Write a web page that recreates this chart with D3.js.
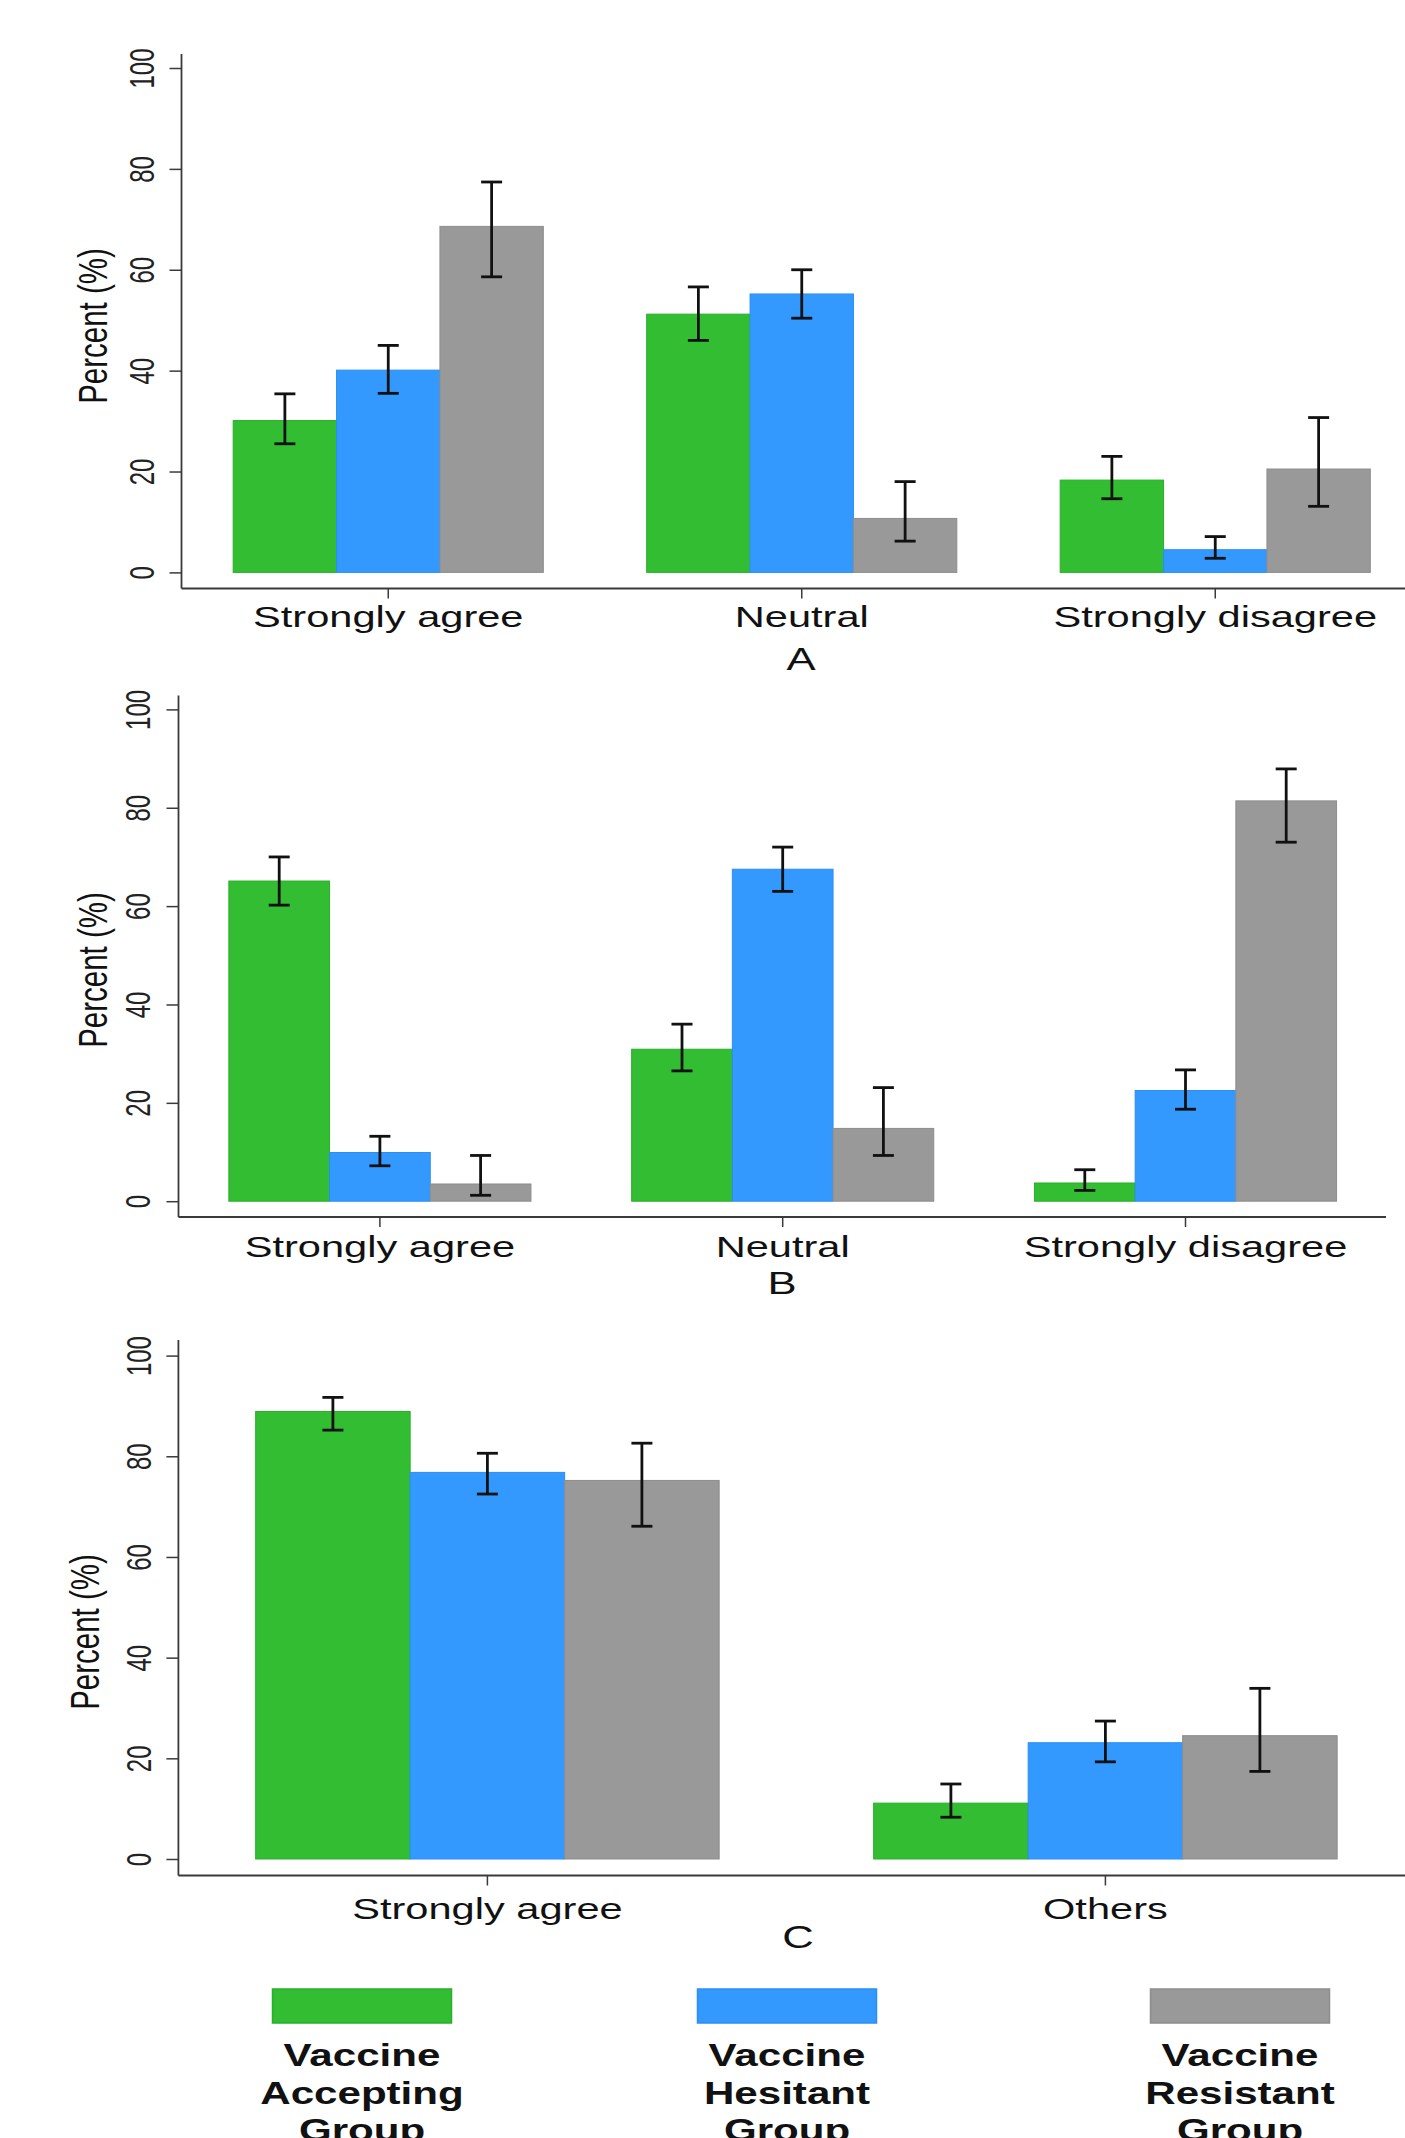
<!DOCTYPE html>
<html>
<head>
<meta charset="utf-8">
<script src="https://cdn.jsdelivr.net/npm/d3@7"></script>
<style>
  html, body { margin: 0; padding: 0; background: #fff; }
  svg { display: block; }
</style>
</head>
<body>
<svg id="chart"></svg>
<script>
// ─── Data ──────────────────────────────────────────────────────────────────
const groups = ["Vaccine Accepting Group", "Vaccine Hesitant Group", "Vaccine Resistant Group"];
const groupLines = [["Vaccine", "Accepting", "Group"], ["Vaccine", "Hesitant", "Group"], ["Vaccine", "Resistant", "Group"]];

const catsAB = ["Strongly agree", "Neutral", "Strongly disagree"];
const catsC  = ["Strongly agree", "Others"];

// one row per category, columns = [accepting, hesitant, resistant]
const meanA = [[30.1, 40.1, 68.6], [51.2, 55.2, 10.7], [18.3, 4.5, 20.5]];
const lowA  = [[25.5, 35.5, 58.6], [46.0, 50.4, 6.2],  [14.6, 2.8, 13.1]];
const highA = [[35.4, 45.0, 77.4], [56.6, 60.0, 18.0], [23.0, 7.1, 30.7]];

const meanB = [[65.1, 9.9, 3.5],   [30.9, 67.5, 14.8], [3.7, 22.5, 81.4]];
const lowB  = [[60.2, 7.2, 1.2],   [26.5, 63.0, 9.3],  [2.2, 18.7, 73.0]];
const highB = [[70.0, 13.2, 9.3],  [36.0, 72.0, 23.1], [6.4, 26.7, 87.9]];

const meanC = [[88.9, 76.8, 75.2], [11.1, 23.1, 24.5]];
const lowC  = [[85.2, 72.5, 66.1], [8.3, 19.3, 17.4]];
const highC = [[91.7, 80.6, 82.6], [14.9, 27.4, 33.9]];

const yTicks = [0, 20, 40, 60, 80, 100];

// ─── Style ─────────────────────────────────────────────────────────────────
const W = 1405, H = 2138;
const SX = 1.41;               // the source raster is stretched horizontally
const FONT = "'Liberation Sans', Arial, Helvetica, sans-serif";
const FILL   = ["#33bd33", "#3399ff", "#999999"];
const STROKE = ["#28b028", "#2b8ef2", "#8d8d8d"];
const AXIS = "#3a3a3a";
const TEXT = "#111";

// ─── Layout per panel ──────────────────────────────────────────────────────
const PANELS = [
  { letter: "A", cats: catsAB, mean: meanA, low: lowA, high: highA,
    axisX: 181.5, y0: 572.4, y100: 68, axisTop: 54, xAxisY: 588.5, step: 413.5, axisEnd: 1405,
    tickLblX: 154, titleX: 107, titleY: 326, catY: 627, letterX: 801, letterY: 670 },
  { letter: "B", cats: catsAB, mean: meanB, low: lowB, high: highB,
    axisX: 178.5, y0: 1201.2, y100: 709.4, axisTop: 695.5, xAxisY: 1217, step: 402.8, axisEnd: 1386,
    tickLblX: 150, titleX: 107, titleY: 970, catY: 1257, letterX: 782, letterY: 1294 },
  { letter: "C", cats: catsC, mean: meanC, low: lowC, high: highC,
    axisX: 178.4, y0: 1859, y100: 1355.6, axisTop: 1340, xAxisY: 1875.5, step: 618, axisEnd: 1405,
    tickLblX: 151, titleX: 99, titleY: 1632, catY: 1919, letterX: 798, letterY: 1948 },
];

const LEGEND_X = [362, 787, 1240];
const LEGEND = { y: 1989, w: 179, h: 34, textY: 2066, lineH: 37.5 };

// ─── SVG ───────────────────────────────────────────────────────────────────
const svg = d3.select("#chart").attr("width", W).attr("height", H)
  .attr("viewBox", `0 0 ${W} ${H}`)
  .style("font-family", FONT);

svg.append("rect").attr("width", W).attr("height", H).attr("fill", "#fff");

// text stretched horizontally like the source picture
function stretchedText(parent, x, y, str, size, rotate = false, sx = SX) {
  return parent.append("text")
    .attr("transform", `translate(${x},${y}) scale(${sx},1)` + (rotate ? " rotate(-90)" : ""))
    .attr("text-anchor", "middle")
    .attr("font-size", size)
    .attr("fill", TEXT)
    .text(str);
}

PANELS.forEach(p => {
  const g = svg.append("g");
  const n = p.cats.length;

  const y = d3.scaleLinear().domain([0, 100]).range([p.y0, p.y100]);
  const x0 = d3.scaleBand().domain(p.cats)
    .range([p.axisX, p.axisX + n * p.step])
    .paddingInner(0.25).paddingOuter(0.125);
  const x1 = d3.scaleBand().domain(groups).range([0, x0.bandwidth()]);

  // ── bars ───────────────────────────────────────────────────────────────
  const rows = p.cats.map((c, i) => groups.map((grp, j) => ({
    cat: c, grp, j, v: p.mean[i][j], lo: p.low[i][j], hi: p.high[i][j]
  })));

  const catG = g.selectAll("g.cat").data(rows).join("g")
    .attr("transform", (d, i) => `translate(${x0(p.cats[i])},0)`);

  catG.selectAll("rect").data(d => d).join("rect")
    .attr("x", d => x1(d.grp))
    .attr("y", d => y(d.v))
    .attr("width", x1.bandwidth())
    .attr("height", d => y(0) - y(d.v))
    .attr("fill", d => FILL[d.j])
    .attr("stroke", d => STROKE[d.j])
    .attr("stroke-width", 1);

  // ── error bars ─────────────────────────────────────────────────────────
  const err = catG.selectAll("g.err").data(d => d).join("g")
    .attr("class", "err")
    .attr("transform", d => `translate(${x1(d.grp) + x1.bandwidth() / 2},0)`)
    .attr("stroke", "#111").attr("stroke-width", 2.8);
  err.append("line").attr("y1", d => y(d.lo)).attr("y2", d => y(d.hi));
  err.append("line").attr("x1", -10.5).attr("x2", 10.5).attr("y1", d => y(d.hi)).attr("y2", d => y(d.hi));
  err.append("line").attr("x1", -10.5).attr("x2", 10.5).attr("y1", d => y(d.lo)).attr("y2", d => y(d.lo));

  // ── y axis ─────────────────────────────────────────────────────────────
  const yAxis = g.append("g").attr("transform", `translate(${p.axisX},0)`)
    .call(d3.axisLeft(y).tickValues(yTicks).tickSize(12).tickSizeOuter(0));
  yAxis.select(".domain").remove();
  yAxis.selectAll(".tick line").attr("stroke", AXIS).attr("stroke-width", 1.5);
  yAxis.selectAll(".tick text").remove();
  yAxis.selectAll(".tick").each(function (d) {
    stretchedText(d3.select(this), p.tickLblX - p.axisX, 0, d, 24, true, 1.5)
      .attr("fill", "#222");
  });
  g.append("line")
    .attr("x1", p.axisX).attr("x2", p.axisX)
    .attr("y1", p.axisTop).attr("y2", p.xAxisY)
    .attr("stroke", AXIS).attr("stroke-width", 1.8);

  stretchedText(g, p.titleX, p.titleY, "Percent (%)", 29.5, true);

  // ── x axis ─────────────────────────────────────────────────────────────
  const xAxis = g.append("g").attr("transform", `translate(0,${p.xAxisY})`)
    .call(d3.axisBottom(x0).tickSize(10).tickSizeOuter(0));
  xAxis.select(".domain").remove();
  xAxis.selectAll(".tick line").attr("stroke", AXIS).attr("stroke-width", 1.5);
  xAxis.selectAll(".tick text").remove();
  xAxis.selectAll(".tick").each(function (d) {
    stretchedText(d3.select(this), 0, p.catY - p.xAxisY, d, 29.5);
  });
  g.append("line")
    .attr("x1", p.axisX).attr("x2", p.axisEnd)
    .attr("y1", p.xAxisY).attr("y2", p.xAxisY)
    .attr("stroke", AXIS).attr("stroke-width", 1.8);

  stretchedText(g, p.letterX, p.letterY, p.letter, 31);
});

// ─── Legend ────────────────────────────────────────────────────────────────
const legend = svg.append("g");
groups.forEach((grp, j) => {
  const cx = LEGEND_X[j];
  legend.append("rect")
    .attr("x", cx - LEGEND.w / 2).attr("y", LEGEND.y)
    .attr("width", LEGEND.w).attr("height", LEGEND.h)
    .attr("fill", FILL[j]).attr("stroke", STROKE[j]).attr("stroke-width", 1.5);
  groupLines[j].forEach((ln, k) => {
    stretchedText(legend, cx, LEGEND.textY + k * LEGEND.lineH, ln, 30.5, false, 1.38)
      .attr("font-weight", "bold");
  });
});
</script>
</body>
</html>
